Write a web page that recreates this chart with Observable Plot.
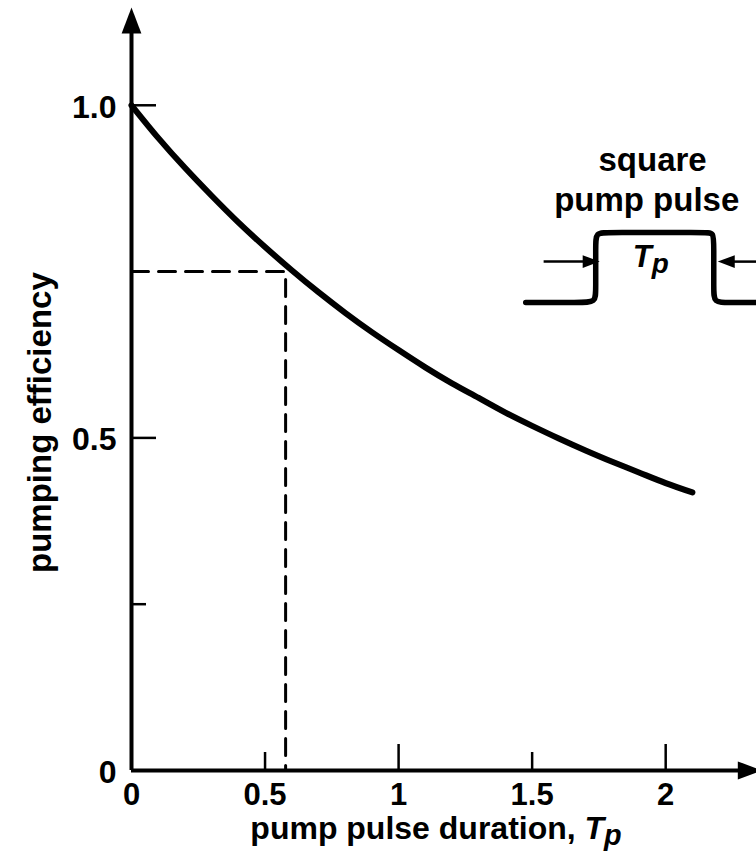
<!DOCTYPE html>
<html><head><meta charset="utf-8">
<script src="https://cdn.jsdelivr.net/npm/d3@7"></script>
<script src="https://cdn.jsdelivr.net/npm/@observablehq/plot@0.6"></script>
<style>
html,body{margin:0;padding:0;background:#fff;}
</style>
</head><body><div id="chart"></div>
<script>
// Curve: pumping efficiency vs pump pulse duration
const pulseDuration = [0, 0.1, 0.2, 0.3, 0.4, 0.5, 0.6, 0.7, 0.8, 0.9, 1.0, 1.1, 1.2, 1.3, 1.4, 1.5, 1.6, 1.7, 1.8, 1.9, 2.0, 2.1];
const efficiency    = [1.0, 0.951, 0.906, 0.864, 0.824, 0.787, 0.752, 0.719, 0.688, 0.659, 0.632, 0.606, 0.582, 0.560, 0.538, 0.518, 0.499, 0.481, 0.464, 0.448, 0.432, 0.418];

// Dashed marker
const markerT = 0.577;
const markerEff = 0.75;

// Axes
const xAxisEnd = 2.34;
const yAxisEnd = 1.147;
const xTickMajor = [1, 2];
const xTickMinor = [0.5, 1.5];
const xTickLabelValues = [0, 0.5, 1, 1.5, 2];
const xTickLabels = ["0", "0.5", "1", "1.5", "2"];
const yTickMajor = [0.5, 1.0];
const yTickMinor = [0.25, 0.75];
const yTickLabelValues = [0, 0.5, 1.0];
const yTickLabels = ["0", "0.5", "1.0"];

// Inset square pulse (in chart units)
const pulseX = [1.476, 1.682, 1.738, 1.738, 1.738, 1.738, 1.783, 2.150, 2.180, 2.180, 2.180, 2.180, 2.232, 2.34];
const pulseY = [0.7036, 0.7036, 0.7036, 0.7216, 0.7892, 0.8088, 0.8088, 0.8088, 0.8088, 0.7892, 0.7216, 0.7036, 0.7036, 0.7036];
const pulseArrowY = 0.765;
const leftArrowX = [1.543, 1.7528];
const rightArrowX = [2.34, 2.195];

const curve = pulseDuration.map((t, i) => ({t, e: efficiency[i]}));
const pulse = pulseX.map((x, i) => ({x, y: pulseY[i]}));
const dashed = [{x: 0, y: markerEff}, {x: markerT, y: markerEff}, {x: markerT, y: 0}];

const pxX = 267, pxY = 665.2; // pixels per unit, used only to convert tick lengths
const arrowHead = {
  draw(ctx, size) {
    const r = Math.sqrt(size / Math.PI);
    ctx.moveTo(0, 0);
    ctx.lineTo(-0.38 * r, r);
    ctx.lineTo(0.38 * r, r);
    ctx.closePath();
  }
};

const font = "'Liberation Sans', Arial, Helvetica, sans-serif";

const chart = Plot.plot({
  width: 756,
  height: 857,
  marginLeft: 131,
  marginRight: 0,
  marginTop: 7,
  marginBottom: 87,
  x: {domain: [0, xAxisEnd], axis: null},
  y: {domain: [0, yAxisEnd], axis: null},
  style: {fontFamily: font, fontWeight: "bold", background: "#fff", color: "#000", overflow: "visible"},
  marks: [
    // dashed guide
    Plot.line(dashed, {x: "x", y: "y", stroke: "#000", strokeWidth: 3, strokeDasharray: "17,10"}),
    // axes
    Plot.ruleX([0], {y1: 0, y2: yAxisEnd - 0.03, stroke: "#000", strokeWidth: 4}),
    Plot.ruleY([0], {x1: 0, x2: xAxisEnd - 0.04, stroke: "#000", strokeWidth: 4}),
    Plot.dot([{x: 0, y: yAxisEnd}], {x: "x", y: "y", symbol: arrowHead, r: 26, fill: "#000", stroke: "none"}),
    Plot.dot([{x: xAxisEnd + 0.02, y: 0}], {x: "x", y: "y", symbol: arrowHead, r: 24, fill: "#000", stroke: "none", rotate: 90}),
    // ticks
    Plot.ruleX(xTickMajor, {x: d => d, y1: 0, y2: 26 / pxY, stroke: "#000", strokeWidth: 2.5}),
    Plot.ruleX(xTickMinor, {x: d => d, y1: 0, y2: 18 / pxY, stroke: "#000", strokeWidth: 2.5}),
    Plot.ruleY(yTickMajor, {y: d => d, x1: 0, x2: 25 / pxX, stroke: "#000", strokeWidth: 2.5}),
    Plot.ruleY(yTickMinor, {y: d => d, x1: 0, x2: 15 / pxX, stroke: "#000", strokeWidth: 2.5}),
    // tick labels
    Plot.text(xTickLabelValues, {x: d => d, y: 0, text: (d, i) => xTickLabels[i], dy: 25, fontSize: 31, textAnchor: "middle"}),
    Plot.text(yTickLabelValues, {x: 0, y: d => d, text: (d, i) => yTickLabels[i], dx: -15, dy: 2, fontSize: 32, textAnchor: "end"}),
    // main curve
    Plot.line(curve, {x: "t", y: "e", stroke: "#000", strokeWidth: 6, curve: "natural", strokeLinecap: "round"}),
    // inset pulse
    Plot.line(pulse, {x: "x", y: "y", stroke: "#000", strokeWidth: 5.5, curve: "basis", strokeLinecap: "round"}),
    Plot.link([{x1: leftArrowX[0], x2: leftArrowX[1] - 0.03, y: pulseArrowY}], {x1: "x1", x2: "x2", y1: "y", y2: "y", stroke: "#000", strokeWidth: 2.5}),
    Plot.dot([{x: leftArrowX[1], y: pulseArrowY}], {x: "x", y: "y", symbol: arrowHead, r: 17, fill: "#000", stroke: "none", rotate: 90}),
    Plot.link([{x1: rightArrowX[0], x2: rightArrowX[1] + 0.03, y: pulseArrowY}], {x1: "x1", x2: "x2", y1: "y", y2: "y", stroke: "#000", strokeWidth: 2.5}),
    Plot.dot([{x: rightArrowX[1], y: pulseArrowY}], {x: "x", y: "y", symbol: arrowHead, r: 17, fill: "#000", stroke: "none", rotate: -90}),
    Plot.text([{x: 1.951, y: 0.917, s: "square"}], {x: "x", y: "y", text: "s", fontSize: 33, textAnchor: "middle"}),
    Plot.text([{x: 1.929, y: 0.857, s: "pump pulse"}], {x: "x", y: "y", text: "s", fontSize: 33, textAnchor: "middle"}),
    Plot.text([{x: 1.944, y: 0.772, s: "Tp"}], {x: "x", y: "y", text: "s", fontSize: 31, textAnchor: "middle"}),
    // axis titles
    Plot.text([{s: "pump pulse duration, Tp"}], {text: "s", frameAnchor: "bottom", dy: 68, dx: -8, fontSize: 32, textAnchor: "middle", letterSpacing: 0.7}),
    Plot.text([{y: 0.523, s: "pumping efficiency"}], {y: "y", text: "s", frameAnchor: "left", dx: -91, rotate: -90, fontSize: 33, textAnchor: "middle", letterSpacing: 2.5})
  ]
});

// subscript formatting for T_p
chart.querySelectorAll("text").forEach(el => {
  const s = el.textContent;
  if (s.endsWith("Tp")) {
    el.textContent = s.slice(0, -2);
    const t = document.createElementNS("http://www.w3.org/2000/svg", "tspan");
    t.setAttribute("font-style", "italic");
    t.textContent = "T";
    const p = document.createElementNS("http://www.w3.org/2000/svg", "tspan");
    p.setAttribute("font-style", "italic");
    p.setAttribute("dy", "6");
    p.setAttribute("font-size", "0.9em");
    p.textContent = "p";
    el.appendChild(t);
    el.appendChild(p);
  }
});

document.getElementById("chart").appendChild(chart);
</script>
</body></html>
